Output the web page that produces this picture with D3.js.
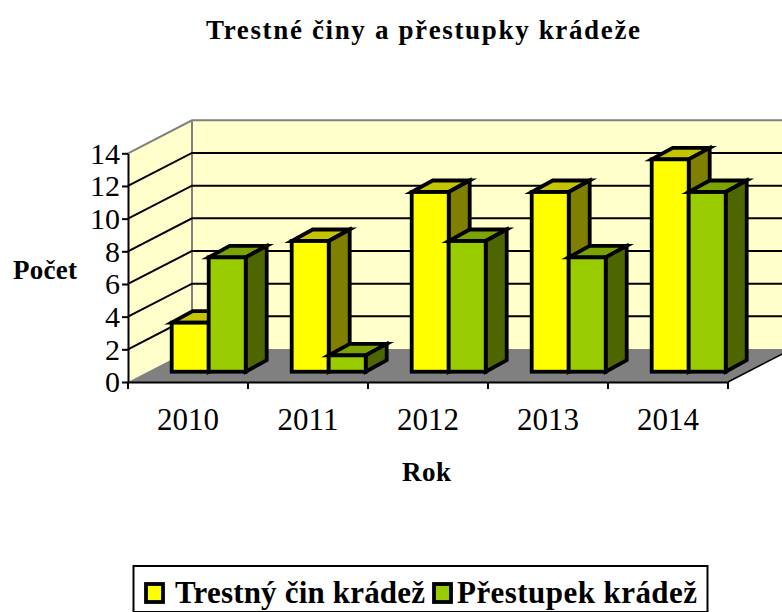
<!DOCTYPE html>
<html><head><meta charset="utf-8">
<script src="https://cdnjs.cloudflare.com/ajax/libs/d3/7.8.5/d3.min.js"></script>
<style>html,body{margin:0;padding:0;background:#fff}svg{display:block}text{font-family:"Liberation Serif",serif;fill:#000}</style>
</head><body><svg id="c" width="782" height="612"></svg>
<script>
const years = ["2010","2011","2012","2013","2014"];
const crime = [3,8,11,11,13];
const offence = [7,1,8,7,11];
const yTicks = [0,2,4,6,8,10,12,14];
const seriesNames = ["Trestný čin krádež","Přestupek krádež"];
const chartTitle = "Trestné činy a přestupky krádeže";
const yTitle = "Počet", xTitle = "Rok";

const svg = d3.select("#c");
const x = d3.scaleBand().domain(years).range([128,728]);
const y = d3.scaleLinear().domain([0,14]).range([382,153.3]);
const wallDx = 64, wallDy = -33;
const barDx = 21, barDy = -11.5, barBase = 10.3, barStart = 43.7, barW = 37;
const poly = pts => pts.map(p=>p.join(",")).join(" ");

// walls
const left = 128, right = 728;
svg.append("polygon").attr("points",poly([[left,y(0)],[left+wallDx,y(0)+wallDy],[left+wallDx,y(14)+wallDy],[left,y(14)]])).attr("fill","#FFFFCC");
svg.append("polygon").attr("points",poly([[left+wallDx,y(0)+wallDy],[right+wallDx,y(0)+wallDy],[right+wallDx,y(14)+wallDy],[left+wallDx,y(14)+wallDy]])).attr("fill","#FFFFCC");
svg.append("polyline").attr("points",poly([[left,y(14)],[left+wallDx,y(14)+wallDy],[782,y(14)+wallDy]])).attr("fill","none").attr("stroke","#808080").attr("stroke-width",2);
svg.append("line").attr("x1",left+wallDx).attr("x2",left+wallDx).attr("y1",y(14)+wallDy).attr("y2",y(0)+wallDy).attr("stroke","#808080").attr("stroke-width",2);

// gridlines
svg.selectAll(".g").data(yTicks.slice(1,-1)).join("polyline")
  .attr("points",d=>poly([[left,y(d)],[left+wallDx,y(d)+wallDy],[right+wallDx,y(d)+wallDy]]))
  .attr("fill","none").attr("stroke","#000").attr("stroke-width",2);

// floor
svg.append("polygon").attr("points",poly([[left,y(0)],[right,y(0)],[right+wallDx,y(0)+wallDy],[left+wallDx,y(0)+wallDy]])).attr("fill","#808080");
svg.append("line").attr("x1",right).attr("y1",y(0)).attr("x2",right+wallDx).attr("y2",y(0)+wallDy).attr("stroke","#000").attr("stroke-width",1.5);

// axes
const ay = d3.axisLeft(y).tickValues(yTicks).tickSize(6).tickPadding(2).tickSizeOuter(0);
const gy = svg.append("g").attr("transform",`translate(${left},0)`).call(ay);
gy.selectAll("text").attr("font-size",30).attr("dy","0.33em");
gy.selectAll("path,line").attr("stroke","#000").attr("stroke-width",2);

const ax = d3.axisBottom(x).tickValues([]).tickSizeOuter(0);
const gx = svg.append("g").attr("transform",`translate(0,${y(0)})`).call(ax);
gx.selectAll("path").attr("stroke","#000").attr("stroke-width",2);
svg.selectAll(".xt").data(years.concat("end")).join("line")
  .attr("x1",(d,i)=>i<5?x(d):right).attr("x2",(d,i)=>i<5?x(d):right)
  .attr("y1",y(0)).attr("y2",y(0)+7).attr("stroke","#000").attr("stroke-width",2);
svg.selectAll(".xl").data(years).join("text")
  .attr("x",d=>x(d)+x.bandwidth()/2).attr("y",430).attr("text-anchor","middle").attr("font-size",31).text(d=>d);

// bars
const series = [
  {vals:crime,front:"#FFFF00",top:"#C4C400",side:"#808000",off:0},
  {vals:offence,front:"#99CC00",top:"#7AA300",side:"#4D6600",off:1}
];
const base = y(0)-barBase;
const unit = y(0)-y(1);
years.forEach((yr,i)=>{
  series.forEach(s=>{
    const v=s.vals[i], x0=x(yr)+barStart+s.off*barW, x1=x0+barW, yt=base-v*unit;
    const g=svg.append("g").attr("stroke","#000").attr("stroke-width",3.8).attr("stroke-linejoin","miter").attr("stroke-miterlimit",10);
    g.append("polygon").attr("points",poly([[x0,yt],[x1,yt],[x1+barDx,yt+barDy],[x0+barDx,yt+barDy]])).attr("fill",s.top);
    g.append("polygon").attr("points",poly([[x1,yt],[x1+barDx,yt+barDy],[x1+barDx,base+barDy],[x1,base]])).attr("fill",s.side);
    g.append("rect").attr("x",x0).attr("y",yt).attr("width",barW).attr("height",base-yt).attr("fill",s.front);
  });
});

// titles
svg.append("text").attr("x",206).attr("y",39).attr("font-size",27).attr("font-weight","bold").attr("textLength",434).text(chartTitle);
svg.append("text").attr("x",13).attr("y",279).attr("font-size",27).attr("font-weight","bold").attr("textLength",64).text(yTitle);
svg.append("text").attr("x",402).attr("y",481).attr("font-size",27).attr("font-weight","bold").attr("textLength",49).text(xTitle);

// legend
svg.append("rect").attr("x",133.5).attr("y",566).attr("width",574).attr("height",46).attr("fill","#fff").attr("stroke","#000").attr("stroke-width",2);
const legendSwatch=[146,434], legendText=[175,457], legendLen=[250,240];
series.forEach((s,i)=>{
  svg.append("rect").attr("x",legendSwatch[i]).attr("y",584).attr("width",17).attr("height",18).attr("fill",s.front).attr("stroke","#000").attr("stroke-width",3.8);
  svg.append("text").attr("x",legendText[i]).attr("y",603).attr("font-size",31).attr("font-weight","bold").attr("textLength",legendLen[i]).text(seriesNames[i]);
});
</script></body></html>
